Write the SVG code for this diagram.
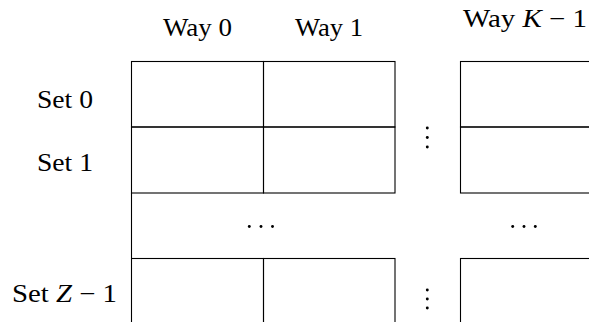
<svg xmlns="http://www.w3.org/2000/svg" width="589" height="322" viewBox="0 0 589 322">
<style>
.cell{fill:none;stroke:#000;stroke-width:1.1}
.ln{stroke:#000;stroke-width:1.1;fill:none}
.lbl{font-family:"Liberation Serif","DejaVu Serif",serif;font-size:25px;fill:#000}
.m{font-style:italic}
.dot{fill:#000}
</style>
<defs><circle id="d" r="1.45" class="dot"/></defs>
<rect width="589" height="322" fill="#fff"/>
<g id="headers">
<text class="lbl" x="163" y="36" textLength="69" lengthAdjust="spacingAndGlyphs">Way 0</text>
<text class="lbl" x="295" y="36" textLength="68" lengthAdjust="spacingAndGlyphs">Way 1</text>
<text class="lbl" x="463" y="27" textLength="124" lengthAdjust="spacingAndGlyphs">Way <tspan class="m">K</tspan> − 1</text>
<text class="lbl" x="37" y="108" textLength="56" lengthAdjust="spacingAndGlyphs">Set 0</text>
<text class="lbl" x="37" y="171" textLength="56" lengthAdjust="spacingAndGlyphs">Set 1</text>
<text class="lbl" x="12" y="302" textLength="105" lengthAdjust="spacingAndGlyphs">Set <tspan class="m">Z</tspan> − 1</text>
</g>
<g id="cell-0-0"><rect class="cell" x="131.5" y="61.5" width="132" height="65.5"/></g>
<g id="cell-0-1"><rect class="cell" x="263.5" y="61.5" width="131.5" height="65.5"/></g>
<g id="cell-0-k"><rect class="cell" x="460.5" y="61.5" width="140" height="65.5"/></g>
<g id="cell-1-0"><rect class="cell" x="131.5" y="127" width="132" height="66"/></g>
<g id="cell-1-1"><rect class="cell" x="263.5" y="127" width="131.5" height="66"/></g>
<g id="cell-1-k"><rect class="cell" x="460.5" y="127" width="140" height="66"/></g>
<g id="cell-z-0"><rect class="cell" x="131.5" y="258.5" width="132" height="80"/></g>
<g id="cell-z-1"><rect class="cell" x="263.5" y="258.5" width="131.5" height="80"/></g>
<g id="cell-z-k"><rect class="cell" x="460.5" y="258.5" width="140" height="80"/></g>
<g id="connectors">
<line class="ln" x1="131.5" y1="193" x2="131.5" y2="258.5"/>
</g>
<g id="ellipses">
<use href="#d" x="427.3" y="128"/><use href="#d" x="427.3" y="137.5"/><use href="#d" x="427.3" y="147"/>
<use href="#d" x="427.3" y="290"/><use href="#d" x="427.3" y="299"/><use href="#d" x="427.3" y="308"/>
<use href="#d" x="249.3" y="226.5"/><use href="#d" x="261" y="226.5"/><use href="#d" x="272.5" y="226.5"/>
<use href="#d" x="512.7" y="226.5"/><use href="#d" x="524" y="226.5"/><use href="#d" x="535.3" y="226.5"/>
</g>
</svg>
